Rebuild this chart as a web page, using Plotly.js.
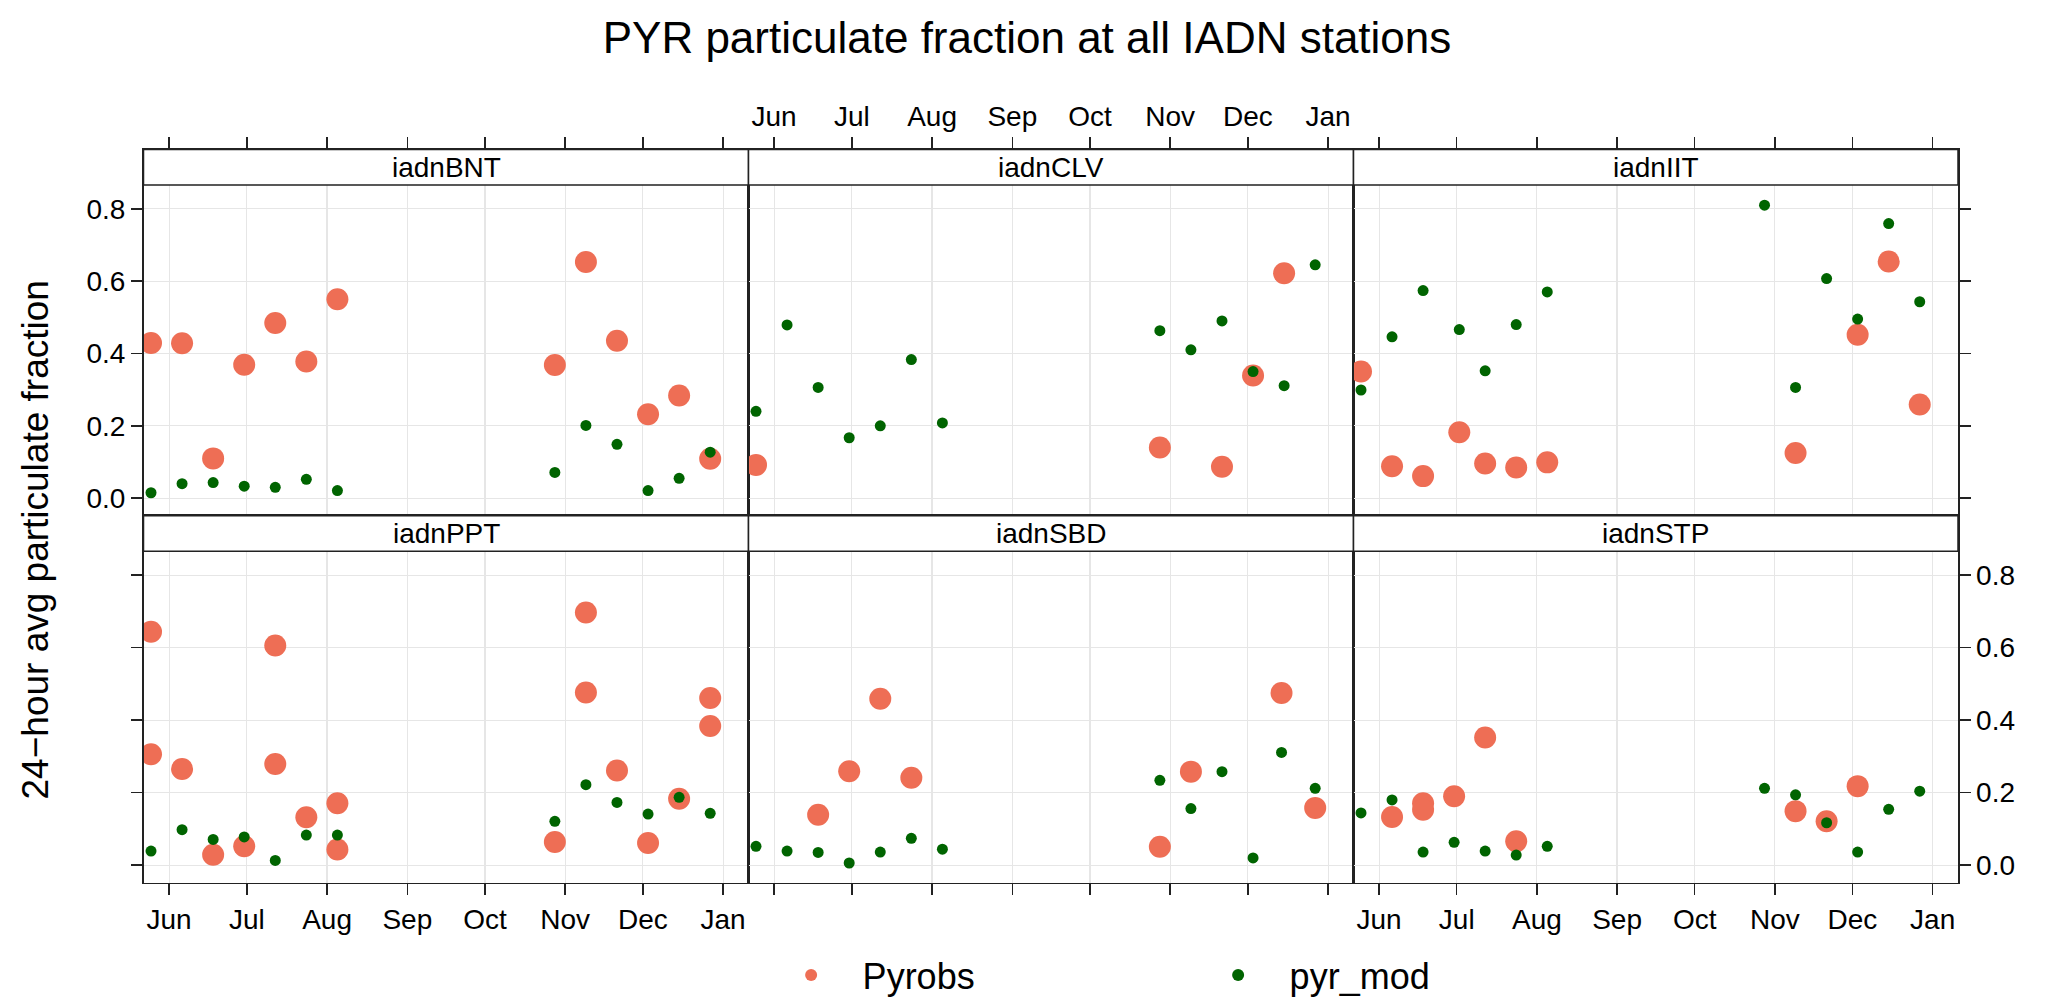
<!DOCTYPE html>
<html>
<head>
<meta charset="utf-8">
<script src="https://cdn.plot.ly/plotly-3.0.1.min.js"></script>
<style>
  html, body { margin: 0; padding: 0; background: #fff; }
  #plotter { width: 2067px; height: 1005px; }
</style>
</head>
<body>
<div id="plotter"></div>
<script>
// month ticks shared by every panel
var monthTicks = ['2010-06-01', '2010-07-01', '2010-08-01', '2010-09-01', '2010-10-01', '2010-11-01', '2010-12-01', '2011-01-01'];
var monthLabels = ['Jun', 'Jul', 'Aug', 'Sep', 'Oct', 'Nov', 'Dec', 'Jan'];
var fracTicks = [0, 0.2, 0.4, 0.6, 0.8];
var fracLabels = ['0.0', '0.2', '0.4', '0.6', '0.8'];

var stations = ['iadnBNT', 'iadnCLV', 'iadnIIT', 'iadnPPT', 'iadnSBD', 'iadnSTP'];

// iadnBNT
var bntObsDates = ['2010-05-25', '2010-06-06', '2010-06-18', '2010-06-30', '2010-07-12', '2010-07-24', '2010-08-05', '2010-10-28', '2010-11-09', '2010-11-21', '2010-12-03', '2010-12-15', '2010-12-27'];
var bntObs = [0.429, 0.428, 0.110, 0.369, 0.484, 0.378, 0.550, 0.368, 0.653, 0.435, 0.232, 0.284, 0.109];
var bntModDates = ['2010-05-25', '2010-06-06', '2010-06-18', '2010-06-30', '2010-07-12', '2010-07-24', '2010-08-05', '2010-10-28', '2010-11-09', '2010-11-21', '2010-12-03', '2010-12-15', '2010-12-27'];
var bntMod = [0.015, 0.040, 0.043, 0.033, 0.030, 0.052, 0.021, 0.071, 0.201, 0.149, 0.021, 0.055, 0.127];

// iadnCLV
var clvObsDates = ['2010-05-25', '2010-10-28', '2010-11-21', '2010-12-03', '2010-12-15'];
var clvObs = [0.092, 0.140, 0.087, 0.339, 0.622];
var clvModDates = ['2010-05-25', '2010-06-06', '2010-06-18', '2010-06-30', '2010-07-12', '2010-07-24', '2010-08-05', '2010-10-28', '2010-11-09', '2010-11-21', '2010-12-03', '2010-12-15', '2010-12-27'];
var clvMod = [0.240, 0.479, 0.306, 0.167, 0.200, 0.383, 0.208, 0.463, 0.410, 0.490, 0.350, 0.311, 0.645];

// iadnIIT
var iitObsDates = ['2010-05-25', '2010-06-06', '2010-06-18', '2010-07-02', '2010-07-12', '2010-07-24', '2010-08-05', '2010-11-09', '2010-12-03', '2010-12-15', '2010-12-27'];
var iitObs = [0.350, 0.088, 0.061, 0.182, 0.096, 0.085, 0.099, 0.125, 0.452, 0.654, 0.259];
var iitModDates = ['2010-05-25', '2010-06-06', '2010-06-18', '2010-07-02', '2010-07-12', '2010-07-24', '2010-08-05', '2010-10-28', '2010-11-09', '2010-11-21', '2010-12-03', '2010-12-15', '2010-12-27'];
var iitMod = [0.299, 0.446, 0.574, 0.466, 0.352, 0.480, 0.570, 0.810, 0.306, 0.607, 0.495, 0.759, 0.543];

// iadnPPT
var pptObsDates = ['2010-05-25', '2010-05-25', '2010-06-06', '2010-06-18', '2010-06-30', '2010-07-12', '2010-07-12', '2010-07-24', '2010-08-05', '2010-08-05', '2010-10-28', '2010-11-09', '2010-11-09', '2010-11-21', '2010-12-03', '2010-12-15', '2010-12-27', '2010-12-27'];
var pptObs = [0.644, 0.306, 0.265, 0.029, 0.052, 0.606, 0.279, 0.132, 0.171, 0.043, 0.064, 0.697, 0.476, 0.261, 0.061, 0.183, 0.461, 0.384];
var pptModDates = ['2010-05-25', '2010-06-06', '2010-06-18', '2010-06-30', '2010-07-12', '2010-07-24', '2010-08-05', '2010-10-28', '2010-11-09', '2010-11-21', '2010-12-03', '2010-12-15', '2010-12-27'];
var pptMod = [0.039, 0.098, 0.071, 0.078, 0.013, 0.083, 0.083, 0.121, 0.222, 0.173, 0.141, 0.187, 0.143];

// iadnSBD
var sbdObsDates = ['2010-06-18', '2010-06-30', '2010-07-12', '2010-07-24', '2010-10-28', '2010-11-09', '2010-12-14', '2010-12-27'];
var sbdObs = [0.139, 0.259, 0.459, 0.241, 0.051, 0.258, 0.475, 0.158];
var sbdModDates = ['2010-05-25', '2010-06-06', '2010-06-18', '2010-06-30', '2010-07-12', '2010-07-24', '2010-08-05', '2010-10-28', '2010-11-09', '2010-11-21', '2010-12-03', '2010-12-14', '2010-12-27'];
var sbdMod = [0.052, 0.039, 0.035, 0.006, 0.036, 0.074, 0.044, 0.234, 0.156, 0.258, 0.020, 0.311, 0.212];

// iadnSTP
var stpObsDates = ['2010-06-06', '2010-06-18', '2010-06-18', '2010-06-30', '2010-07-12', '2010-07-24', '2010-11-09', '2010-11-21', '2010-12-03'];
var stpObs = [0.133, 0.171, 0.153, 0.190, 0.352, 0.066, 0.149, 0.121, 0.218];
var stpModDates = ['2010-05-25', '2010-06-06', '2010-06-18', '2010-06-30', '2010-07-12', '2010-07-24', '2010-08-05', '2010-10-28', '2010-11-09', '2010-11-21', '2010-12-03', '2010-12-15', '2010-12-27'];
var stpMod = [0.144, 0.180, 0.036, 0.063, 0.039, 0.028, 0.052, 0.212, 0.194, 0.117, 0.036, 0.154, 0.204];

var obsDates = [bntObsDates, clvObsDates, iitObsDates, pptObsDates, sbdObsDates, stpObsDates];
var obsVals = [bntObs, clvObs, iitObs, pptObs, sbdObs, stpObs];
var modDates = [bntModDates, clvModDates, iitModDates, pptModDates, sbdModDates, stpModDates];
var modVals = [bntMod, clvMod, iitMod, pptMod, sbdMod, stpMod];

var W = 2067, H = 1005;
var font = 'Liberation Sans, Arial, Helvetica, sans-serif';
var obsColor = '#EE6E55';
var modColor = '#006400';
var boxColor = '#222222';
var gridColor = '#e6e6e6';

// panel geometry in pixels (lattice layout: 3 columns x 2 rows, strip on top)
var colLeft = [143.5, 748.5, 1353.5];
var colRight = [748.5, 1353.5, 1958];
var rowTop = [149.7, 516.3];
var rowBottom = [516.3, 883.7];
var stripH = 35.5;
var xRange = ['2010-05-22 02:24', '2011-01-10 19:12'];
var yRange = [-0.0487, 0.9637];

var data = [];
var layout = {
    width: W, height: H,
    margin: {l: 0, r: 0, t: 0, b: 0, pad: 0},
    paper_bgcolor: '#fff', plot_bgcolor: '#fff',
    font: {family: font, color: '#000'},
    showlegend: true,
    title: {
        text: 'PYR particulate fraction at all IADN stations',
        font: {size: 44, family: font, color: '#000'},
        x: 1027 / W, xanchor: 'center', xref: 'paper',
        y: 1 - 38 / H, yanchor: 'middle', yref: 'paper'
    },
    legend: {
        orientation: 'h',
        x: 0.3675, xanchor: 'left',
        y: 1 - 975.7 / H, yanchor: 'middle',
        font: {size: 36, family: font},
        itemsizing: 'constant',
        itemwidth: 93,
        entrywidth: 319,
        bgcolor: 'rgba(0,0,0,0)'
    },
    shapes: [],
    annotations: [{
        text: '24\u2212hour avg particulate fraction',
        textangle: -90,
        xref: 'paper', yref: 'paper',
        x: 35 / W, y: 1 - 541 / H,
        xanchor: 'center', yanchor: 'middle',
        showarrow: false,
        font: {size: 37, family: font}
    }]
};

for (var i = 0; i < stations.length; i++) {
    var row = i < 3 ? 0 : 1;
    var col = i % 3;
    var n = i === 0 ? '' : String(i + 1);

    layout['xaxis' + n] = {
        domain: [colLeft[col] / W, colRight[col] / W],
        anchor: 'y' + n,
        type: 'date',
        range: xRange,
        tickvals: monthTicks,
        ticktext: monthLabels,
        side: row === 0 ? 'top' : 'bottom',
        ticks: 'outside', ticklen: 11, tickwidth: 1.5, tickcolor: boxColor,
        showticklabels: (row === 0 && col === 1) || (row === 1 && col !== 1),
        tickfont: {size: 28, family: font},
        showgrid: true, gridcolor: gridColor, gridwidth: 1.2,
        zeroline: false,
        showline: true, mirror: true, linecolor: boxColor, linewidth: 1.5
    };
    layout['yaxis' + n] = {
        domain: [1 - rowBottom[row] / H, 1 - rowTop[row] / H],
        anchor: 'x' + n,
        range: yRange,
        tickvals: fracTicks,
        ticktext: fracLabels,
        side: col === 2 ? 'right' : 'left',
        ticks: col === 1 ? '' : 'outside', ticklen: 11, tickwidth: 1.5, tickcolor: boxColor,
        showticklabels: (row === 0 && col === 0) || (row === 1 && col === 2),
        tickfont: {size: 28, family: font},
        showgrid: true, gridcolor: gridColor, gridwidth: 1.2,
        zeroline: false,
        showline: true, mirror: true, linecolor: boxColor, linewidth: 1.5
    };

    // strip with station name
    layout.shapes.push({
        type: 'rect', xref: 'paper', yref: 'paper', layer: 'above',
        x0: colLeft[col] / W, x1: colRight[col] / W,
        y0: 1 - (rowTop[row] + stripH) / H, y1: 1 - rowTop[row] / H,
        fillcolor: '#fff', line: {color: boxColor, width: 1.5}
    });
    layout.annotations.push({
        text: stations[i], xref: 'paper', yref: 'paper',
        x: (colLeft[col] + colRight[col]) / 2 / W,
        y: 1 - (rowTop[row] + stripH / 2) / H,
        xanchor: 'center', yanchor: 'middle', showarrow: false,
        font: {size: 28, family: font}
    });

    data.push({
        x: obsDates[i], y: obsVals[i],
        xaxis: 'x' + n, yaxis: 'y' + n,
        type: 'scatter', mode: 'markers',
        name: 'Pyrobs', legendgroup: 'obs', showlegend: i === 0,
        marker: {color: obsColor, size: 22},
        hoverinfo: 'skip'
    });
    data.push({
        x: modDates[i], y: modVals[i],
        xaxis: 'x' + n, yaxis: 'y' + n,
        type: 'scatter', mode: 'markers',
        name: 'pyr_mod', legendgroup: 'mod', showlegend: i === 0,
        marker: {color: modColor, size: 11},
        hoverinfo: 'skip'
    });
}

Plotly.newPlot('plotter', data, layout, {staticPlot: true, displayModeBar: false});
</script>
</body>
</html>
